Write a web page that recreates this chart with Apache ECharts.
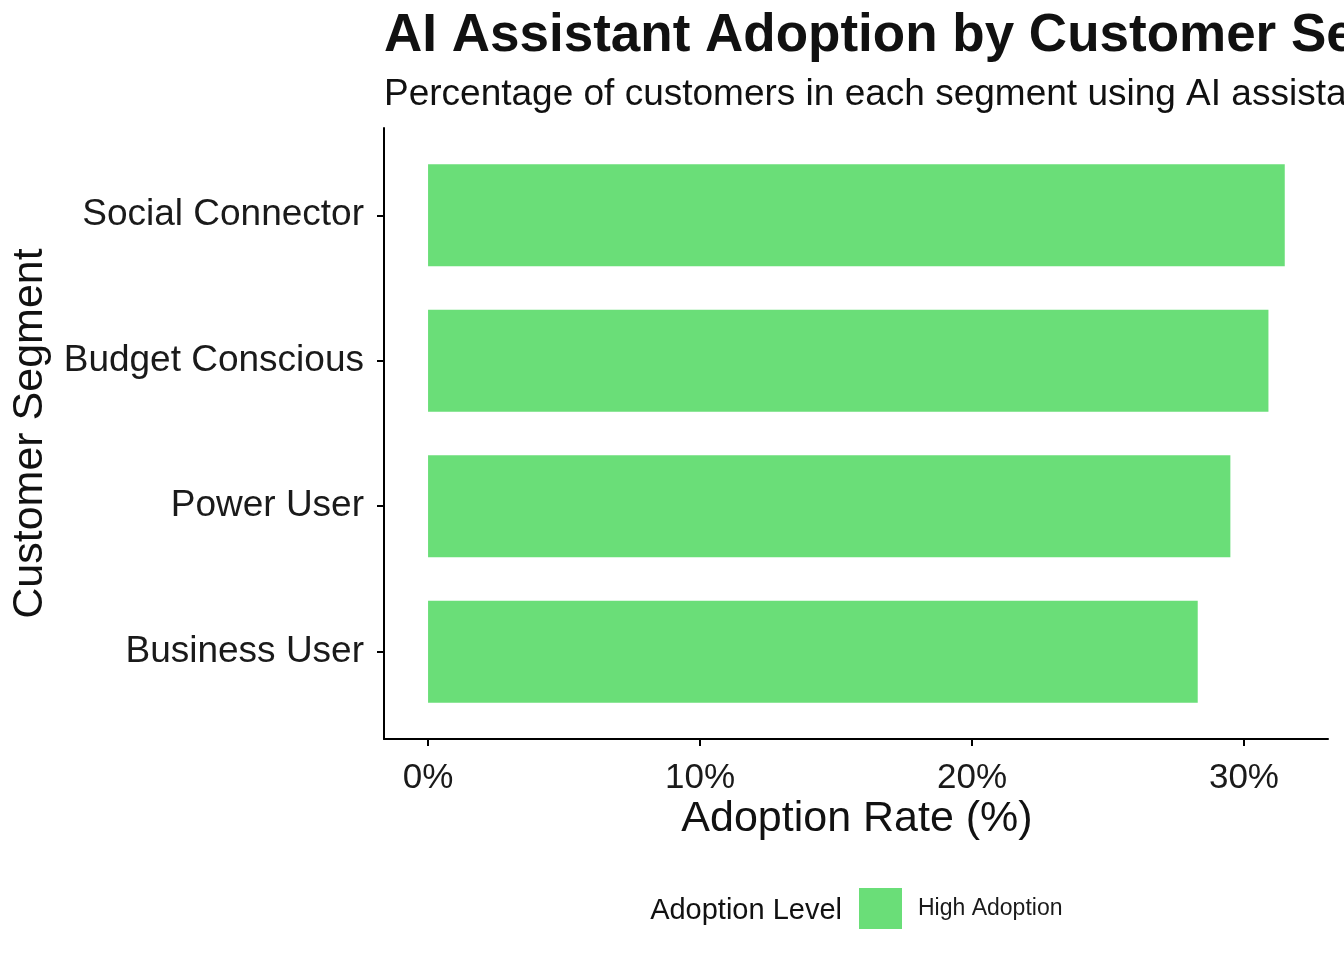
<!DOCTYPE html>
<html>
<head>
<meta charset="utf-8">
<script src="https://cdn.jsdelivr.net/npm/echarts@6/dist/echarts.min.js"></script>
<style>
html,body{margin:0;padding:0;background:#fff;}
#chart{width:1344px;height:960px;}
</style>
</head>
<body>
<div id="chart"></div>
<script>
const categories = ['Business User', 'Power User', 'Budget Conscious', 'Social Connector'];
const adoptionRates = [28.3, 29.5, 30.9, 31.5];
const tickValues = [0, 10, 20, 30];
const seriesName = 'High Adoption';

const FONT = '"Liberation Sans", Arial, Helvetica, sans-serif';
const xMin = -1.62, xMax = 33.09;
const plotL = 384, plotR = 1328, plotT = 128, plotB = 739;
const band = (plotB - plotT) / 4.2;

const chart = echarts.init(document.getElementById('chart'), null, {renderer: 'canvas'});
chart.setOption({
  backgroundColor: '#ffffff',
  animation: false,
  textStyle: {fontFamily: FONT},
  grid: [
    {left: plotL, right: 1344 - plotR, top: plotT, bottom: 960 - plotB, containLabel: false},
    {left: plotL, right: 1344 - plotR, top: plotT + 0.1 * band, bottom: 960 - plotB + 0.1 * band, containLabel: false}
  ],
  xAxis: [
    {
      type: 'value', gridIndex: 0, min: xMin, max: xMax,
      axisLine: {show: true, onZero: false, lineStyle: {color: '#000', width: 2}},
      axisTick: {show: true, length: 7, lineStyle: {color: '#000', width: 2}, customValues: tickValues},
      axisLabel: {show: true, fontSize: 35, color: '#1a1a1a', margin: 22, fontFamily: FONT,
        customValues: tickValues, formatter: v => v + '%'},
      splitLine: {show: false}
    },
    {
      type: 'value', gridIndex: 1, min: xMin, max: xMax, show: false
    }
  ],
  yAxis: [
    {
      type: 'value', gridIndex: 0, min: 0, max: 1,
      axisLine: {show: true, onZero: false, lineStyle: {color: '#000', width: 2}},
      axisTick: {show: false}, axisLabel: {show: false}, splitLine: {show: false}
    },
    {
      type: 'category', gridIndex: 1, data: categories,
      axisLine: {show: false, onZero: false},
      axisTick: {show: true, alignWithLabel: true, length: 7, lineStyle: {color: '#000', width: 2}},
      axisLabel: {fontSize: 37, color: '#1a1a1a', margin: 20, fontFamily: FONT, padding: [10, 0, 0, 0]},
      splitLine: {show: false}
    }
  ],
  legend: {
    data: [seriesName],
    left: 859, top: 888, padding: 0,
    itemWidth: 43, itemHeight: 41,
    icon: 'rect',
    textStyle: {fontSize: 23, color: '#1a1a1a', fontFamily: FONT, padding: [3, 0, 0, 11]}
  },
  series: [{
    name: seriesName,
    type: 'bar',
    xAxisIndex: 1, yAxisIndex: 1,
    data: adoptionRates,
    barWidth: '70%',
    itemStyle: {color: '#6ADE78'}
  }],
  graphic: [
    {type: 'text', x: 384, y: 36, style: {text: 'AI Assistant Adoption by Customer Segment', font: 'bold 53px ' + FONT, fill: '#111', align: 'left', verticalAlign: 'middle'}},
    {type: 'text', x: 384, y: 95, style: {text: 'Percentage of customers in each segment using AI assistants', font: '37px ' + FONT, fill: '#111', align: 'left', verticalAlign: 'middle'}},
    {type: 'text', x: 857, y: 819, style: {text: 'Adoption Rate (%)', font: '43px ' + FONT, fill: '#111', align: 'center', verticalAlign: 'middle'}},
    {type: 'text', x: 30, y: 433.5, rotation: Math.PI / 2, style: {text: 'Customer Segment', font: '43px ' + FONT, fill: '#111', align: 'center', verticalAlign: 'middle'}},
    {type: 'text', x: 842, y: 911, style: {text: 'Adoption Level', font: '29px ' + FONT, fill: '#111', align: 'right', verticalAlign: 'middle'}}
  ]
});
</script>
</body>
</html>
